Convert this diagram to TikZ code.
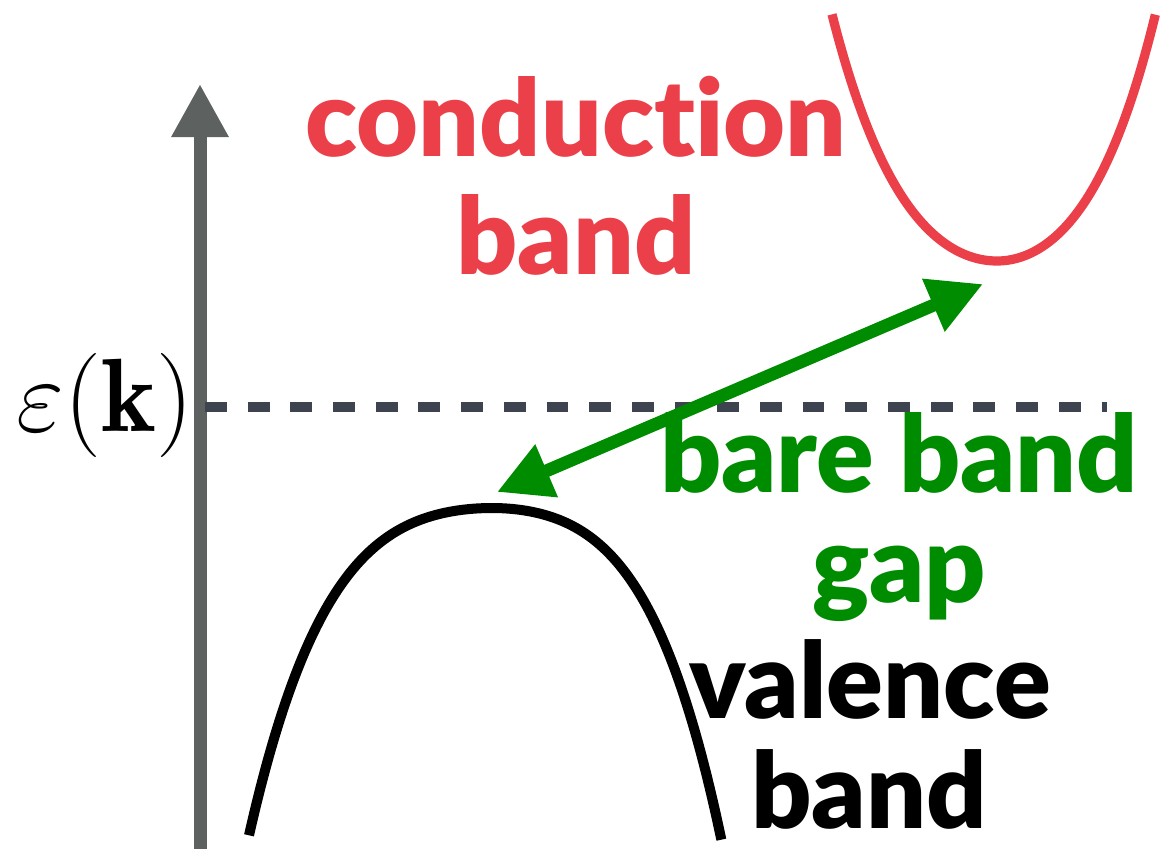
\documentclass[tikz,border=0pt]{standalone}
\usepackage{fontspec}
\usetikzlibrary{arrows.meta}
\newfontfamily\lbl{Lato Black}[Ligatures=NoCommon]
\definecolor{cbandred}{RGB}{235,64,73}
\definecolor{gapgreen}{RGB}{0,140,0}
\definecolor{axisgray}{RGB}{93,97,95}
\definecolor{dashslate}{RGB}{61,68,80}
\tikzset{
  bigtext/.style={anchor=base, inner sep=0pt},
  redtext/.style={bigtext, font=\lbl\fontsize{76}{91}\selectfont, text=cbandred},
  greentext/.style={bigtext, font=\lbl\fontsize{76}{91}\selectfont, text=gapgreen},
  blacktext/.style={bigtext, font=\lbl\fontsize{75}{90}\selectfont, text=black},
  bandcurve/.style={line width=0.25cm, line cap=butt, line join=round},
}
\begin{document}
\begin{tikzpicture}[x=0.025cm,y=-0.025cm]
\useasboundingbox (0,0) rectangle (1161,849);
% energy axis
\coordinate (axbot) at (200,849);
\coordinate (axtop) at (200,84);
\draw[axisgray, line width=0.325cm, -{Triangle[length=1.33cm,width=1.35cm]}] (axbot) -- (axtop);
% dashed level
\coordinate (dstart) at (205,407);
\coordinate (dend) at (1107,407);
\draw[dashslate, line width=0.25cm, dash pattern=on 0.545cm off 0.522cm] (dstart) -- (dend);
% label
\node[anchor=base, inner sep=0pt] (eps) at (105,431) {\scalebox{2.98}{\Huge$\varepsilon(\mathbf{k})$}};
% conduction band
\draw[cbandred, bandcurve, line width=0.23cm]
  plot[domain=-1.65:0, samples=60] ({997+100*\x}, {261-62*\x*\x-10.5*(\x*\x)*(\x*\x)})
  -- plot[domain=0:1.65, samples=60] ({997+96*\x}, {261-62*\x*\x-10.5*(\x*\x)*(\x*\x)});
% valence band
\draw[black, bandcurve]
  plot[domain=-2.43:0, samples=80] ({492+100*\x}, {508+20*\x*\x+6*(\x*\x)*(\x*\x)})
  -- plot[domain=0:2.44, samples=80] ({492+94*\x}, {508+20*\x*\x+6*(\x*\x)*(\x*\x)});
% gap arrow
\coordinate (vtop) at (497,492);
\coordinate (cmin) at (983,284);
\draw[gapgreen, line width=0.32cm, {Triangle[length=1.35cm,width=1.35cm]}-{Triangle[length=1.35cm,width=1.35cm]}] (vtop) -- (cmin);
% texts
\node[redtext] (cond1) at (576,156) {conduction};
\node[redtext] (cond2) at (576,274) {band};
\node[greentext] (gap1) at (899,492) {bare band};
\node[greentext] (gap2) at (899,602) {gap};
\node[blacktext] (val1) at (870,718) {valence};
\node[blacktext] (val2) at (869,828) {band};
\end{tikzpicture}
\end{document}
